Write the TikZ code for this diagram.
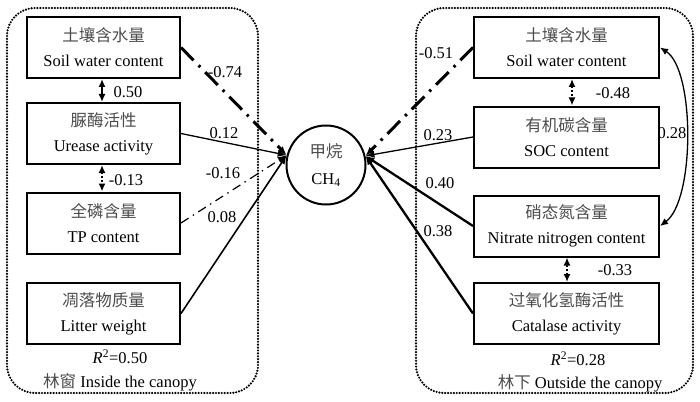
\documentclass[tikz,border=0pt]{standalone}
\usepackage{fontspec}
\setmainfont{Liberation Serif}
\newfontfamily\cjkfont{Noto Sans CJK SC}
\newcommand\zhtxt[1]{{\cjkfont\color{black!70}#1}}
\usetikzlibrary{arrows.meta}
\begin{document}
\begin{tikzpicture}[x=1pt,y=-1pt,
  every node/.style={font=\fontsize{16.5}{25}\selectfont},
  box/.style={draw, line width=2pt, minimum height=61pt, align=center, inner sep=0pt},
  lbox/.style={box, minimum width=153pt},
  rbox/.style={box, minimum width=185pt},
  panel/.style={line width=2.4pt, dash pattern=on 0pt off 2.9pt, line cap=round, rounded corners=28pt},
  tipend/.style={-{Latex[length=9pt,width=7pt]}},
  dbl/.style={{Latex[length=8pt,width=7pt]}-{Latex[length=8pt,width=7pt]}},
  thickdd/.style={tipend, line width=3pt, dash pattern=on 18pt off 7pt on 2.5pt off 7pt},
  thindd/.style={tipend, line width=1.2pt, dash pattern=on 9pt off 5pt on 1.5pt off 5pt},
  thinsolid/.style={tipend, line width=1.3pt},
  medsolid/.style={tipend, line width=1.6pt},
  thicksolid/.style={tipend, line width=2.3pt},
  dotline/.style={dbl, line width=2pt, dash pattern=on 2pt off 2pt},
  lab/.style={inner sep=0pt}
]
\useasboundingbox (0,0) rectangle (700,401);

% panels
\draw[panel] (7,8) rectangle (258,393);
\draw[panel] (416,8) rectangle (693,393);

% left boxes
\node[lbox] (l1) at (103.5,47.5) {\zhtxt{土壤含水量}\\Soil water content};
\node[lbox] (l2) at (103.5,133.5) {\zhtxt{脲酶活性}\\Urease activity};
\node[lbox] (l3) at (103.5,223) {\zhtxt{全磷含量}\\TP content};
\node[lbox] (l4) at (103.5,313.5) {\zhtxt{凋落物质量}\\Litter weight};

% right boxes
\node[rbox] (r1) at (566.5,47.5) {\zhtxt{土壤含水量}\\Soil water content};
\node[rbox] (r2) at (566.5,137) {\zhtxt{有机碳含量}\\SOC content};
\node[rbox] (r3) at (566.5,226) {\zhtxt{硝态氮含量}\\Nitrate nitrogen content};
\node[rbox] (r4) at (566.5,313.5) {\zhtxt{过氧化氢酶活性}\\Catalase activity};

% center
\node[circle, draw, line width=2pt, minimum size=79pt, inner sep=0pt, align=center,
  font=\fontsize{16.5}{27}\selectfont] (c) at (326,165) {\zhtxt{甲烷}\\CH\textsubscript{4}};

% left paths
\draw[thickdd] (l1.east) -- (c.166);
\draw[thinsolid] (l2.east) -- (c.166);
\draw[thindd] (l3.east) -- (c.166);
\draw[medsolid] (l4.east) -- (c.166);

% right paths
\draw[thickdd] (r1.west) -- (c.13);
\draw[thinsolid] (r2.west) -- (c.13);
\draw[thicksolid] (r3.west) -- (c.13);
\draw[thicksolid] (r4.west) -- (c.13);

% correlations
\draw[dbl, line width=2.4pt] ([xshift=-1.5pt]l1.south) -- ([xshift=-1.5pt]l2.north);
\draw[dotline] ([xshift=-1.5pt]l2.south) -- ([xshift=-1.5pt]l3.north);
\draw[dotline] ([xshift=5.5pt]r1.south) -- ([xshift=5.5pt]r2.north);
\draw[dotline] ([xshift=0.5pt]r3.south) -- ([xshift=0.5pt]r4.north);
\draw[dbl, line width=1.3pt] (r1.east) .. controls (695,70) and (695,200) .. (r3.east);

% labels
\node[lab] (t1) at (225,72) {-0.74};
\node[lab] (t2) at (224,133) {0.12};
\node[lab] (t3) at (223,173) {-0.16};
\node[lab] (t4) at (222,217) {0.08};
\node[lab] (t5) at (128,92) {0.50};
\node[lab] (t6) at (126,180) {-0.13};
\node[lab] (t7) at (436,53) {-0.51};
\node[lab] (t8) at (438,135) {0.23};
\node[lab] (t9) at (440,183) {0.40};
\node[lab] (t10) at (438,231) {0.38};
\node[lab] (t11) at (613,93) {-0.48};
\node[lab] (t12) at (615,270) {-0.33};
\node[lab] (t13) at (672,133) {0.28};

\node[lab] (rl) at (120,357) {\textit{R}\textsuperscript{2}=0.50};
\node[lab] (rr) at (578,359) {\textit{R}\textsuperscript{2}=0.28};
\node[lab] (pl) at (120,382) {\zhtxt{林窗} Inside the canopy};
\node[lab] (pr) at (580,383) {\zhtxt{林下} Outside the canopy};
\end{tikzpicture}
\end{document}
